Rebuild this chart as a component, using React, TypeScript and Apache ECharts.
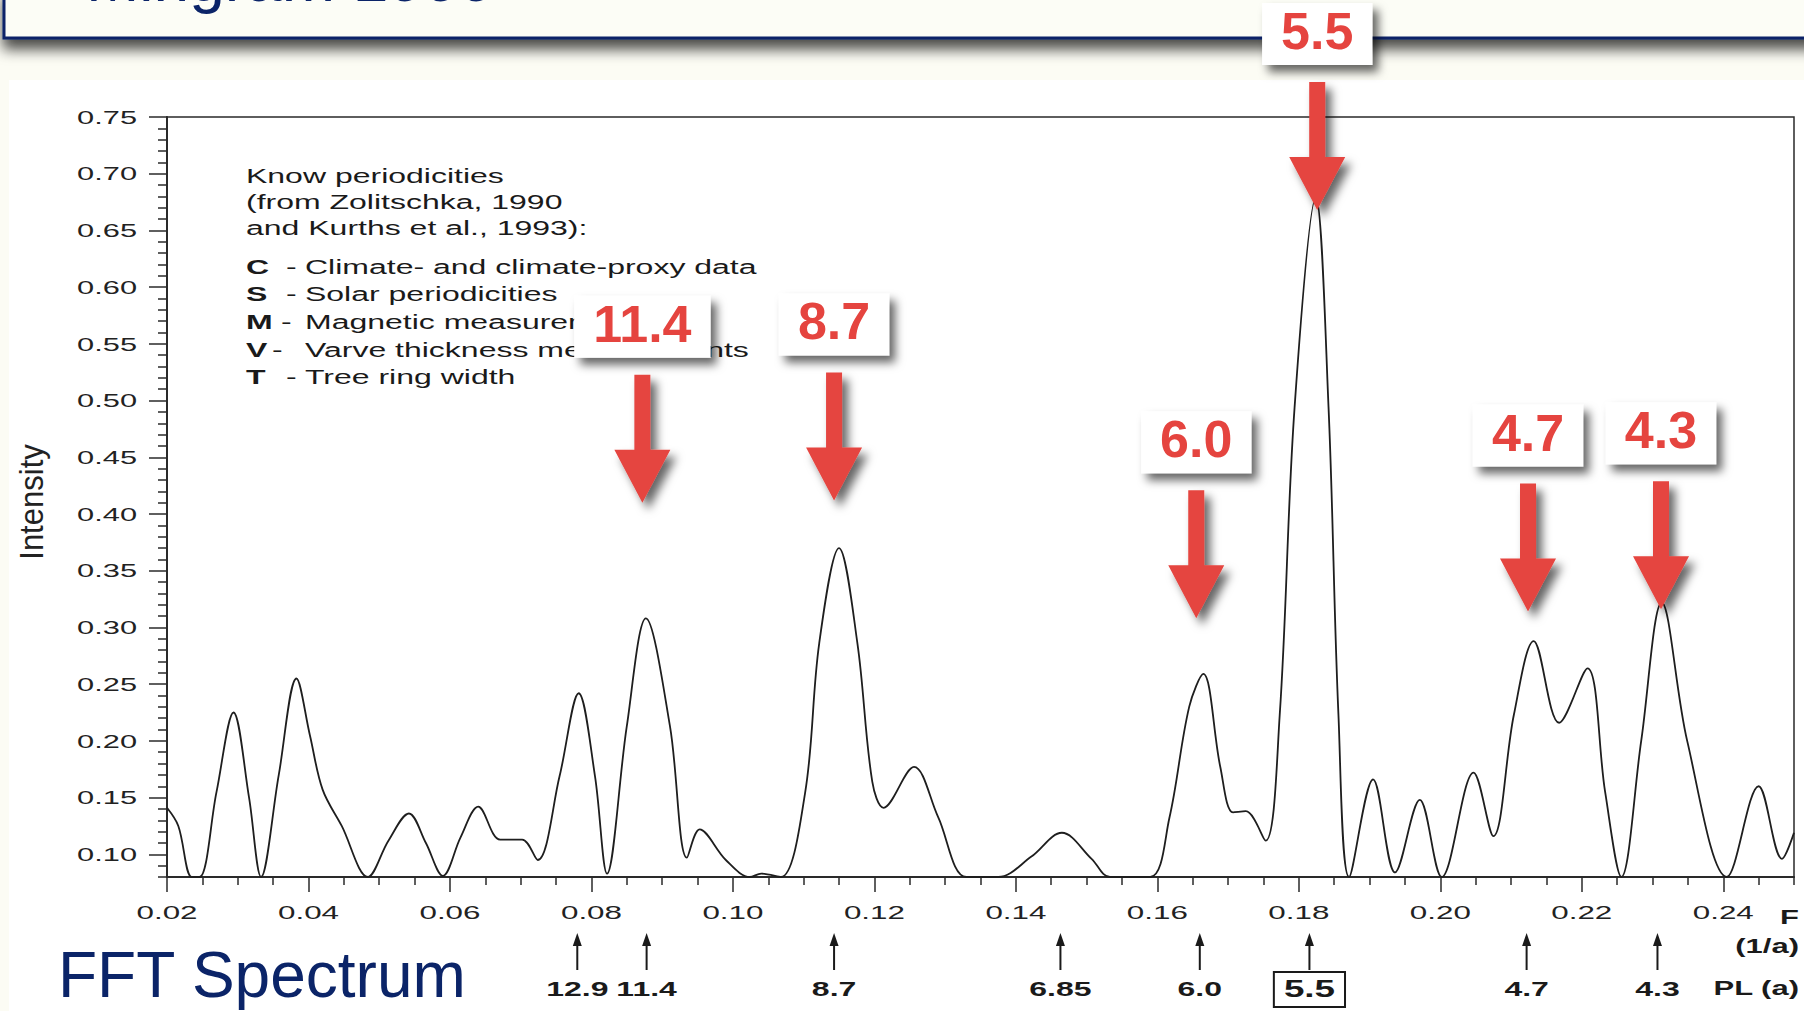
import React, { useEffect, useRef } from 'react';
import * as echarts from 'echarts';

// ---- spectrum (frequency in 1/a, intensity) ----
const frequency = [
  0.0200, 0.0216, 0.0235, 0.0246, 0.0270, 0.0294, 0.0316, 0.0333, 0.0358, 0.0383,
  0.0402, 0.0420, 0.0447, 0.0484, 0.0513, 0.0542, 0.0566, 0.0590, 0.0615, 0.0640,
  0.0671, 0.0702, 0.0724, 0.0755, 0.0782, 0.0805, 0.0822, 0.0850, 0.0877, 0.0911,
  0.0935, 0.0953, 0.0990, 0.1024, 0.1040, 0.1068, 0.1102, 0.1122, 0.1150, 0.1176,
  0.1197, 0.1213, 0.1256, 0.1290, 0.1330, 0.1375, 0.1422, 0.1465, 0.1507, 0.1533,
  0.1590, 0.1617, 0.1645, 0.1665, 0.1689, 0.1707, 0.1725, 0.1753, 0.1773, 0.1794,
  0.1824, 0.1842, 0.1856, 0.1871, 0.1905, 0.1936, 0.1971, 0.2002, 0.2047, 0.2075,
  0.2104, 0.2132, 0.2168, 0.2208, 0.2233, 0.2256, 0.2284, 0.2313, 0.2349, 0.2405,
  0.2450, 0.2483, 0.2500,
];
const intensity = [
  0.141, 0.125, 0.080, 0.080, 0.155, 0.225, 0.150, 0.080, 0.170, 0.255,
  0.205, 0.157, 0.125, 0.080, 0.112, 0.136, 0.110, 0.081, 0.115, 0.142,
  0.113, 0.113, 0.095, 0.169, 0.242, 0.169, 0.083, 0.213, 0.308, 0.213,
  0.097, 0.122, 0.095, 0.080, 0.083, 0.080, 0.154, 0.286, 0.370, 0.286,
  0.164, 0.141, 0.177, 0.133, 0.080, 0.080, 0.098, 0.119, 0.096, 0.080,
  0.080, 0.132, 0.230, 0.259, 0.177, 0.137, 0.138, 0.112, 0.223, 0.494,
  0.679, 0.494, 0.223, 0.080, 0.166, 0.084, 0.148, 0.080, 0.172, 0.116,
  0.223, 0.288, 0.216, 0.264, 0.155, 0.080, 0.200, 0.322, 0.200, 0.080,
  0.160, 0.096, 0.119,
];

// ---- axes ----
const xTickValues = [0.02, 0.04, 0.06, 0.08, 0.10, 0.12, 0.14, 0.16, 0.18, 0.20, 0.22, 0.24];
const xTickLabels = ['0.02', '0.04', '0.06', '0.08', '0.10', '0.12', '0.14', '0.16', '0.18', '0.20', '0.22', '0.24'];
const xMinorTickValues = [
  0.025, 0.03, 0.035, 0.045, 0.05, 0.055, 0.065, 0.07, 0.075, 0.085, 0.09, 0.095,
  0.105, 0.11, 0.115, 0.125, 0.13, 0.135, 0.145, 0.15, 0.155, 0.165, 0.17, 0.175,
  0.185, 0.19, 0.195, 0.205, 0.21, 0.215, 0.225, 0.23, 0.235, 0.245, 0.25,
];
const yTickValues = [0.10, 0.15, 0.20, 0.25, 0.30, 0.35, 0.40, 0.45, 0.50, 0.55, 0.60, 0.65, 0.70, 0.75];
const yTickLabels = ['0.10', '0.15', '0.20', '0.25', '0.30', '0.35', '0.40', '0.45', '0.50', '0.55', '0.60', '0.65', '0.70', '0.75'];
const yMinorTickValues = [
  0.08, 0.09, 0.11, 0.12, 0.13, 0.14, 0.16, 0.17, 0.18, 0.19, 0.21, 0.22, 0.23, 0.24,
  0.26, 0.27, 0.28, 0.29, 0.31, 0.32, 0.33, 0.34, 0.36, 0.37, 0.38, 0.39, 0.41, 0.42,
  0.43, 0.44, 0.46, 0.47, 0.48, 0.49, 0.51, 0.52, 0.53, 0.54, 0.56, 0.57, 0.58, 0.59,
  0.61, 0.62, 0.63, 0.64, 0.66, 0.67, 0.68, 0.69, 0.71, 0.72, 0.73, 0.74,
];

// ---- period markers below the axis ----
const periodLabels = ['12.9', '11.4', '8.7', '6.85', '6.0', '5.5', '4.7', '4.3'];
const periodFreqs = [0.0780, 0.0878, 0.1143, 0.1463, 0.1660, 0.1815, 0.2122, 0.2307];
const boxedPeriod = '5.5';

// ---- red callouts ----
const calloutLabels = ['11.4', '8.7', '6.0', '5.5', '4.7', '4.3'];
const calloutFreqs = [0.0872, 0.1143, 0.1655, 0.1826, 0.2124, 0.2312];
const calloutTips = [0.410, 0.412, 0.308, 0.668, 0.314, 0.316];

// ---- legend block ----
const legendHeader = ['Know periodicities', '(from Zolitschka, 1990', 'and Kurths et al., 1993):'];
const legendKeys = ['C', 'S', 'M', 'V', 'T'];
const legendDescriptions = [
  'Climate- and climate-proxy data',
  'Solar periodicities',
  'Magnetic measurements',
  'Varve thickness measurements',
  'Tree ring width',
];

const RED = '#e5443f';
const NAVY = '#0b2468';
const INK = '#1e1e1e';
const SANS = '"Liberation Sans", Arial, Helvetica, sans-serif';

function measure(text: string, font: string): number {
  const c = document.createElement('canvas').getContext('2d');
  if (!c) return text.length * 28;
  c.font = font;
  return c.measureText(text).width;
}

export default function App() {
  const ref = useRef<HTMLDivElement>(null);

  useEffect(() => {
    if (!ref.current) return;
    const chart = echarts.init(ref.current, undefined, { renderer: 'svg' });
    const tickLine = { color: '#2a2a2a', width: 1.5 };
    const option: any = {
      animation: false,
      backgroundColor: '#fcfcf4',
      grid: {
        left: 167, top: 117, width: 1627, height: 760,
        show: true, borderColor: '#2a2a2a', borderWidth: 1.5, backgroundColor: 'transparent',
      },
      xAxis: [
        {
          type: 'value', min: 0.02, max: 0.25, position: 'bottom',
          axisLine: { show: true, onZero: false, lineStyle: { color: '#2a2a2a', width: 2 } },
          axisTick: { show: true, customValues: xTickValues, length: 15, lineStyle: tickLine },
          axisLabel: { show: false }, splitLine: { show: false },
        },
        {
          type: 'value', min: 0.02, max: 0.25, position: 'bottom',
          axisLine: { show: false, onZero: false },
          axisTick: { show: true, customValues: xMinorTickValues, length: 8, lineStyle: tickLine },
          axisLabel: { show: false }, splitLine: { show: false },
        },
      ],
      yAxis: [
        {
          type: 'value', min: 0.08, max: 0.75, position: 'left',
          axisLine: { show: true, onZero: false, lineStyle: { color: '#2a2a2a', width: 2 } },
          axisTick: { show: true, customValues: yTickValues, length: 18, lineStyle: tickLine },
          axisLabel: { show: false }, splitLine: { show: false },
        },
        {
          type: 'value', min: 0.08, max: 0.75, position: 'left',
          axisLine: { show: false, onZero: false },
          axisTick: { show: true, customValues: yMinorTickValues, length: 9, lineStyle: tickLine },
          axisLabel: { show: false }, splitLine: { show: false },
        },
      ],
      series: [
        {
          type: 'line', xAxisIndex: 0, yAxisIndex: 0,
          data: frequency.map((f, i) => [f, intensity[i]]),
          smooth: 0.35, showSymbol: false, clip: true, silent: true,
          lineStyle: { color: INK, width: 1.8 },
        },
      ],
    };
    chart.setOption(option);

    const toPx = (x: number, y: number): number[] =>
      chart.convertToPixel({ xAxisIndex: 0, yAxisIndex: 0 }, [x, y]) as number[];

    const els: any[] = [];

    // white scanned-figure area
    els.push({ type: 'rect', z: -10, silent: true, shape: { x: 9, y: 80, width: 1800, height: 940 }, style: { fill: '#ffffff' } });

    // title strip
    els.push({
      type: 'rect', z: 5, silent: true,
      shape: { x: 4, y: -12, width: 1830, height: 50 },
      style: { fill: '#fcfdf6', stroke: NAVY, lineWidth: 3, shadowBlur: 14, shadowOffsetY: 10, shadowColor: 'rgba(0,0,0,0.7)' },
    });
    els.push({
      type: 'text', z: 6, silent: true, x: 86, y: -21,
      style: { text: 'Mingram 1999', font: `64px ${SANS}`, fill: NAVY, align: 'left', verticalAlign: 'middle' },
    });

    // bottom slide title
    els.push({
      type: 'text', z: 6, silent: true, x: 58, y: 975,
      style: {
        text: 'FFT Spectrum', font: `64px ${SANS}`, fill: NAVY, align: 'left', verticalAlign: 'middle',
        shadowColor: 'rgba(0,0,0,0.25)', shadowBlur: 2, shadowOffsetX: 2, shadowOffsetY: 2,
      },
    });

    // y tick labels
    yTickValues.forEach((v, i) => {
      const p = toPx(0.02, v);
      els.push({
        type: 'text', z: 6, silent: true, x: p[0] - 30, y: p[1], scaleX: 1.62,
        style: { text: yTickLabels[i], font: `19px ${SANS}`, fill: '#222', align: 'right', verticalAlign: 'middle' },
      });
    });
    // x tick labels
    xTickValues.forEach((v, i) => {
      const p = toPx(v, 0.08);
      els.push({
        type: 'text', z: 6, silent: true, x: p[0], y: 912, scaleX: 1.65,
        style: { text: xTickLabels[i], font: `19px ${SANS}`, fill: '#222', align: 'center', verticalAlign: 'middle' },
      });
    });
    // axis name
    els.push({
      type: 'text', z: 6, silent: true, x: 32, y: 502, rotation: Math.PI / 2, scaleX: 0.94,
      style: { text: 'Intensity', font: `33px ${SANS}`, fill: '#222', align: 'center', verticalAlign: 'middle' },
    });
    // F / (1/a) / PL (a)
    const unitTexts = [['F', 917], ['(1/a)', 946], ['PL (a)', 988]] as [string, number][];
    unitTexts.forEach(([t, y]) => {
      els.push({
        type: 'text', z: 6, silent: true, x: 1799, y, scaleX: 1.55,
        style: { text: t, font: `bold 20px ${SANS}`, fill: '#1a1a1a', align: 'right', verticalAlign: 'middle' },
      });
    });

    // legend block
    const headerY = [176, 202, 228];
    legendHeader.forEach((t, i) => {
      els.push({
        type: 'text', z: 6, silent: true, x: 246, y: headerY[i], scaleX: 1.6,
        style: { text: t, font: `20px ${SANS}`, fill: '#1a1a1a', align: 'left', verticalAlign: 'middle' },
      });
    });
    const keyY = [267, 294, 322, 350, 377];
    const dashX = [286, 286, 281, 272, 286];
    legendKeys.forEach((k, i) => {
      els.push({
        type: 'text', z: 6, silent: true, x: 246, y: keyY[i], scaleX: 1.6,
        style: { text: k, font: `bold 20px ${SANS}`, fill: '#1a1a1a', align: 'left', verticalAlign: 'middle' },
      });
      els.push({
        type: 'text', z: 6, silent: true, x: dashX[i], y: keyY[i], scaleX: 1.6,
        style: { text: '-', font: `20px ${SANS}`, fill: '#1a1a1a', align: 'left', verticalAlign: 'middle' },
      });
      els.push({
        type: 'text', z: 6, silent: true, x: 305, y: keyY[i], scaleX: 1.6,
        style: { text: legendDescriptions[i], font: `20px ${SANS}`, fill: '#1a1a1a', align: 'left', verticalAlign: 'middle' },
      });
    });

    // period markers under the axis
    periodFreqs.forEach((f, i) => {
      const px = toPx(f, 0.08)[0];
      els.push({ type: 'line', z: 6, silent: true, shape: { x1: px, y1: 970, x2: px, y2: 942 }, style: { stroke: '#1a1a1a', lineWidth: 2 } });
      els.push({ type: 'polygon', z: 6, silent: true, shape: { points: [[px, 933], [px - 4.5, 946], [px + 4.5, 946]] }, style: { fill: '#1a1a1a' } });
      const boxed = periodLabels[i] === boxedPeriod;
      const fs = boxed ? 23 : 20;
      els.push({
        type: 'text', z: 6, silent: true, x: px, y: 989, scaleX: 1.6,
        style: { text: periodLabels[i], font: `bold ${fs}px ${SANS}`, fill: '#1a1a1a', align: 'center', verticalAlign: 'middle' },
      });
      if (boxed) {
        const w = measure(periodLabels[i], `bold ${fs}px "Liberation Sans"`) * 1.6 + 20;
        els.push({
          type: 'rect', z: 6, silent: true,
          shape: { x: px - w / 2, y: 972, width: w, height: 35 },
          style: { fill: 'none', stroke: '#1a1a1a', lineWidth: 2 },
        });
      }
    });

    // red callouts
    const calloutFont = `bold 52px ${SANS}`;
    calloutLabels.forEach((t, i) => {
      const [cx, ty] = toPx(calloutFreqs[i], calloutTips[i]);
      const w = measure(t, 'bold 52px "Liberation Sans"') + 38;
      const h = 62;
      const top = ty - 207;
      const shadow = { shadowBlur: 10, shadowOffsetX: 6, shadowOffsetY: 7, shadowColor: 'rgba(0,0,0,0.6)' };
      els.push({ type: 'rect', z: 50, silent: true, shape: { x: cx - w / 2, y: top, width: w, height: h }, style: { fill: '#ffffff', ...shadow } });
      els.push({
        type: 'text', z: 51, silent: true, x: cx, y: top + 28,
        style: { text: t, font: calloutFont, fill: RED, align: 'center', verticalAlign: 'middle' },
      });
      els.push({
        type: 'polygon', z: 50, silent: true,
        shape: {
          points: [
            [cx - 8, ty - 128], [cx + 8, ty - 128], [cx + 8, ty - 53], [cx + 28, ty - 53],
            [cx, ty], [cx - 28, ty - 53], [cx - 8, ty - 53],
          ],
        },
        style: { fill: RED, ...shadow },
      });
    });

    chart.setOption({ graphic: els });

    return () => chart.dispose();
  }, []);

  return (
    <div
      ref={ref}
      style={{ position: 'fixed', left: 0, top: 0, width: 1804, height: 1011 }}
    />
  );
}
